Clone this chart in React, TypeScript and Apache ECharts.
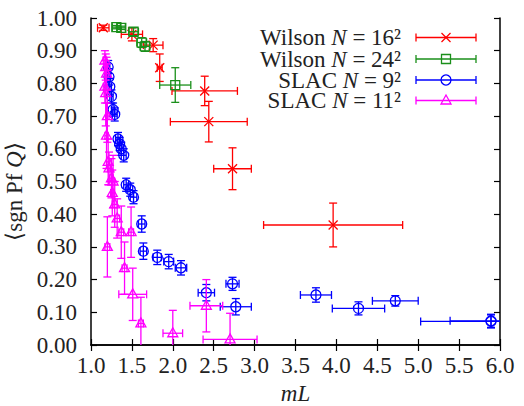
import React, { useEffect, useRef } from "react";
import * as echarts from "echarts";

// [mL, <sgn Pf Q>, error in mL, error in <sgn Pf Q>]
const wilson16: number[][] = [
  [1.15, 0.970, 0.07, 0.008],
  [1.50, 0.950, 0.13, 0.020],
  [1.76, 0.917, 0.12, 0.020],
  [1.84, 0.848, 0.03, 0.042],
  [2.39, 0.777, 0.40, 0.045],
  [2.44, 0.683, 0.47, 0.062],
  [2.73, 0.539, 0.23, 0.064],
  [3.96, 0.367, 0.85, 0.067],
];
const wilson24: number[][] = [
  [1.31, 0.972, 0.05, 0.005],
  [1.37, 0.970, 0.05, 0.005],
  [1.52, 0.958, 0.06, 0.012],
  [1.62, 0.925, 0.06, 0.015],
  [1.66, 0.913, 0.06, 0.015],
  [2.03, 0.795, 0.19, 0.053],
];
const slac9: number[][] = [
  [1.21, 0.850, 0.02, 0.020],
  [1.22, 0.820, 0.02, 0.025],
  [1.23, 0.790, 0.02, 0.025],
  [1.25, 0.760, 0.02, 0.020],
  [1.27, 0.720, 0.02, 0.020],
  [1.29, 0.705, 0.03, 0.020],
  [1.33, 0.630, 0.03, 0.020],
  [1.35, 0.615, 0.03, 0.020],
  [1.37, 0.600, 0.03, 0.020],
  [1.40, 0.580, 0.03, 0.020],
  [1.43, 0.490, 0.03, 0.020],
  [1.48, 0.475, 0.03, 0.020],
  [1.52, 0.452, 0.04, 0.020],
  [1.62, 0.370, 0.04, 0.025],
  [1.64, 0.287, 0.04, 0.025],
  [1.81, 0.268, 0.05, 0.022],
  [1.95, 0.255, 0.06, 0.022],
  [2.10, 0.236, 0.07, 0.022],
  [2.41, 0.160, 0.10, 0.025],
  [2.73, 0.187, 0.08, 0.020],
  [2.77, 0.117, 0.19, 0.025],
  [3.75, 0.153, 0.19, 0.022],
  [4.27, 0.112, 0.32, 0.020],
  [4.72, 0.135, 0.28, 0.016],
  [5.89, 0.074, 0.50, 0.020],
  [5.89, 0.072, 0.86, 0.020],
];
const slac11: number[][] = [
  [1.17, 0.870, 0.02, 0.030],
  [1.18, 0.850, 0.02, 0.040],
  [1.19, 0.830, 0.02, 0.050],
  [1.17, 0.790, 0.02, 0.050],
  [1.18, 0.770, 0.02, 0.100],
  [1.20, 0.700, 0.02, 0.080],
  [1.19, 0.640, 0.02, 0.100],
  [1.21, 0.560, 0.02, 0.070],
  [1.22, 0.540, 0.02, 0.050],
  [1.25, 0.510, 0.02, 0.060],
  [1.27, 0.500, 0.02, 0.080],
  [1.26, 0.465, 0.02, 0.070],
  [1.29, 0.430, 0.03, 0.070],
  [1.32, 0.387, 0.03, 0.060],
  [1.37, 0.345, 0.03, 0.080],
  [1.49, 0.345, 0.03, 0.077],
  [1.20, 0.300, 0.03, 0.092],
  [1.41, 0.235, 0.03, 0.080],
  [1.51, 0.155, 0.17, 0.080],
  [1.61, 0.066, 0.03, 0.080],
  [2.00, 0.036, 0.12, 0.070],
  [2.41, 0.120, 0.20, 0.080],
  [2.70, 0.017, 0.33, 0.080],
];

const seriesNames = ["Wilson N = 16²", "Wilson N = 24²", "SLAC N = 9²", "SLAC N = 11²"];
const legendLabels = ["Wilson {i|N} = 16²", "Wilson {i|N} = 24²", "SLAC {i|N} = 9²", "SLAC {i|N} = 11²"];
const seriesColors = ["#ff0000", "#1a8f1a", "#0000ff", "#ff00ff"];
const seriesMarkers = ["cross", "square", "circle", "triangle"];
const seriesData = [wilson16, wilson24, slac9, slac11];

const FONT = "Liberation Serif";

function markerShape(kind: string, cx: number, cy: number, color: string): any {
  const style = { stroke: color, fill: "none", lineWidth: 1.3 };
  if (kind === "cross") {
    const r = 4.5;
    return {
      type: "group",
      children: [
        { type: "line", shape: { x1: cx - r, y1: cy - r, x2: cx + r, y2: cy + r }, style },
        { type: "line", shape: { x1: cx - r, y1: cy + r, x2: cx + r, y2: cy - r }, style },
      ],
    };
  }
  if (kind === "square") {
    return { type: "rect", shape: { x: cx - 4.5, y: cy - 4.5, width: 9, height: 9 }, style };
  }
  if (kind === "circle") {
    return { type: "circle", shape: { cx, cy, r: 5 }, style };
  }
  return {
    type: "polygon",
    shape: { points: [[cx, cy - 5.5], [cx - 5, cy + 3.5], [cx + 5, cy + 3.5]] },
    style,
  };
}

function errorBars(x1: number, x2: number, y1: number, y2: number, cx: number, cy: number, color: string): any[] {
  const cap = 4;
  const style = { stroke: color, lineWidth: 1.3 };
  return [
    { type: "line", shape: { x1, y1: cy, x2, y2: cy }, style },
    { type: "line", shape: { x1, y1: cy - cap, x2: x1, y2: cy + cap }, style },
    { type: "line", shape: { x1: x2, y1: cy - cap, x2, y2: cy + cap }, style },
    { type: "line", shape: { x1: cx, y1, x2: cx, y2 }, style },
    { type: "line", shape: { x1: cx - cap, y1, x2: cx + cap, y2: y1 }, style },
    { type: "line", shape: { x1: cx - cap, y1: y2, x2: cx + cap, y2 }, style },
  ];
}

export default function App() {
  const ref = useRef<HTMLDivElement>(null);
  useEffect(() => {
    if (!ref.current) return;
    const chart = echarts.init(ref.current, null, { renderer: "svg" });

    const axisLine = { show: true, lineStyle: { color: "#000", width: 1.5 } };
    const axisTick = { show: true, inside: true, length: 6, lineStyle: { color: "#000", width: 1.2 } };
    const labelStyle = { fontFamily: FONT, fontSize: 23, color: "#222" };

    const series: any[] = seriesData.map((data, si) => ({
      type: "custom",
      name: seriesNames[si],
      xAxisIndex: 0,
      yAxisIndex: 0,
      clip: true,
      data,
      renderItem: (_params: any, api: any) => {
        const x = api.value(0), y = api.value(1), dx = api.value(2), dy = api.value(3);
        const c = api.coord([x, y]);
        const l = api.coord([x - dx, y]);
        const r = api.coord([x + dx, y]);
        const t = api.coord([x, y + dy]);
        const b = api.coord([x, y - dy]);
        const color = seriesColors[si];
        return {
          type: "group",
          children: [
            ...errorBars(l[0], r[0], t[1], b[1], c[0], c[1], color),
            markerShape(seriesMarkers[si], c[0], c[1], color),
          ],
        };
      },
    }));

    const graphic: any[] = [];
    const legendRight = 401;
    const rowY = [37.5, 59, 80, 100.5];
    seriesNames.forEach((_, i) => {
      const y = rowY[i];
      const color = seriesColors[i];
      graphic.push({
        type: "text",
        x: legendRight,
        y: y,
        style: {
          text: legendLabels[i],
          fill: "#222",
          fontSize: 23,
          fontFamily: FONT,
          lineHeight: 19,
          align: "right",
          verticalAlign: "middle",
          rich: {
            i: { fontStyle: "italic", fontSize: 23, fontFamily: FONT, fill: "#222", lineHeight: 19 },
          },
        },
      });
      graphic.push({
        type: "group",
        children: [
          ...errorBars(416, 476, y, y, 446, y, color).slice(0, 3),
          markerShape(seriesMarkers[i], 446, y, color),
        ],
      });
    });

    chart.setOption({
      animation: false,
      backgroundColor: "#fff",
      grid: { left: 91, right: 24, top: 18, bottom: 61, containLabel: false, outerBoundsMode: "none" },
      xAxis: [
        {
          type: "value",
          min: 1,
          max: 6,
          interval: 0.5,
          position: "bottom",
          axisLine,
          axisTick,
          splitLine: { show: false },
          axisLabel: { ...labelStyle, margin: 9, formatter: (v: number) => v.toFixed(1) },
          name: "{i|mL}",
          nameLocation: "middle",
          nameGap: 25,
          nameTextStyle: {
            ...labelStyle,
            rich: { i: { fontStyle: "italic", fontSize: 23, fontFamily: FONT, color: "#222" } },
          },
        },
        {
          type: "value",
          min: 1,
          max: 6,
          interval: 0.5,
          position: "top",
          axisLine,
          axisTick,
          splitLine: { show: false },
          axisLabel: { show: false },
        },
      ],
      yAxis: [
        {
          type: "value",
          min: 0,
          max: 1,
          interval: 0.1,
          position: "left",
          axisLine,
          axisTick,
          splitLine: { show: false },
          axisLabel: { ...labelStyle, margin: 14, formatter: (v: number) => v.toFixed(2) },
          name: "⟨sgn Pf {i|Q}⟩",
          nameLocation: "middle",
          nameRotate: 90,
          nameGap: 64,
          nameTextStyle: {
            ...labelStyle,
            padding: [0, 20, 0, 0],
            rich: { i: { fontStyle: "italic", fontSize: 23, fontFamily: FONT, color: "#222" } },
          },
        },
        {
          type: "value",
          min: 0,
          max: 1,
          interval: 0.1,
          position: "right",
          axisLine,
          axisTick,
          splitLine: { show: false },
          axisLabel: { show: false },
        },
      ],
      series,
      graphic,
    });
    return () => chart.dispose();
  }, []);
  return (
    <div
      ref={ref}
      style={{ position: "fixed", left: 0, top: 0, width: 524, height: 406 }}
    />
  );
}
